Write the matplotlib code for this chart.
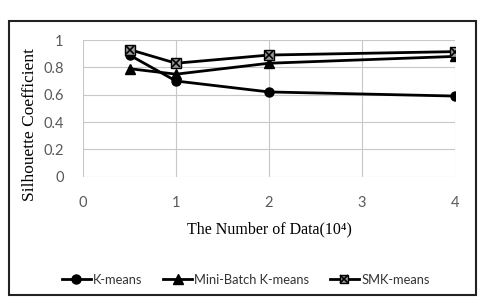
import matplotlib.pyplot as plt
from matplotlib.lines import Line2D
from matplotlib.patches import Rectangle
from matplotlib.legend_handler import HandlerTuple

# data
data_size = [0.5, 1, 2, 4]
kmeans = [0.89, 0.70, 0.62, 0.59]
minibatch = [0.79, 0.75, 0.83, 0.88]
smk = [0.93, 0.83, 0.89, 0.915]
xticks = [0, 1, 2, 3, 4]
yticks = [0, 0.2, 0.4, 0.6, 0.8, 1]
ytick_labels = ['0', '0.2', '0.4', '0.6', '0.8', '1']

sans = 'Lato'

fig = plt.figure(figsize=(4.92, 3.03), dpi=100)
ax = fig.add_axes([83/492, 1-176.7/303, (455-83)/492, (176.7-40)/303])

# outer frame box
fig.patches.append(Rectangle((9/492, 1-295/303), (476-9)/492, (295-21)/303,
                             transform=fig.transFigure, fill=False,
                             edgecolor='#222222', linewidth=1.5))

lw = 2.0
ax.plot(data_size, kmeans, color='black', lw=lw, marker='o', ms=6.5, zorder=3)
ax.plot(data_size, minibatch, color='black', lw=lw, marker='^', ms=6.5, zorder=3)
ax.plot(data_size, smk, color='black', lw=lw, marker='s', ms=6.5,
        mfc='#9a9a9a', mec='black', mew=1, zorder=3)
ax.plot(data_size, smk, ls='none', marker='x', ms=6, mec='black', mew=1.2, zorder=4)

ax.set_xlim(0, 4)
ax.set_ylim(0, 1)
ax.set_xticks(xticks)
ax.set_yticks(yticks)
ax.set_yticklabels(ytick_labels)
ax.grid(True, color='#c8c8c8', lw=0.8)
ax.set_axisbelow(True)
for s in ax.spines.values():
    s.set_visible(False)
ax.tick_params(length=0, labelsize=10.5, labelcolor='#595959')
for lab in ax.get_xticklabels() + ax.get_yticklabels():
    lab.set_family(sans)
ax.tick_params(axis='x', pad=14)
ax.tick_params(axis='y', pad=14)

ax.set_xlabel('The Number of Data(10\u2074)', family='Liberation Serif', fontsize=11.5, labelpad=8)
ax.set_ylabel('Silhouette Coefficient', family='Liberation Serif', fontsize=12.5)
ax.yaxis.set_label_coords(-0.121, 0.385)

h1 = Line2D([], [], color='black', lw=lw, marker='o', ms=6.5)
h2 = Line2D([], [], color='black', lw=lw, marker='^', ms=6.5)
h3a = Line2D([], [], color='black', lw=lw, marker='s', ms=6, mfc='#9a9a9a', mec='black', mew=1)
h3b = Line2D([], [], ls='none', marker='x', ms=5.5, mec='black', mew=1.2)
fig.legend([h1, h2, (h3a, h3b)], ['K-means', 'Mini-Batch K-means', 'SMK-means'],
           handler_map={tuple: HandlerTuple(ndivide=1)},
           loc='center', bbox_to_anchor=(0.5, 1-280/303), ncol=3, frameon=False,
           prop={'family': sans, 'size': 9.3}, handlelength=2.2,
           handletextpad=0.2, columnspacing=1.6, labelcolor='#333333')

fig.savefig('out.png', dpi=100)
